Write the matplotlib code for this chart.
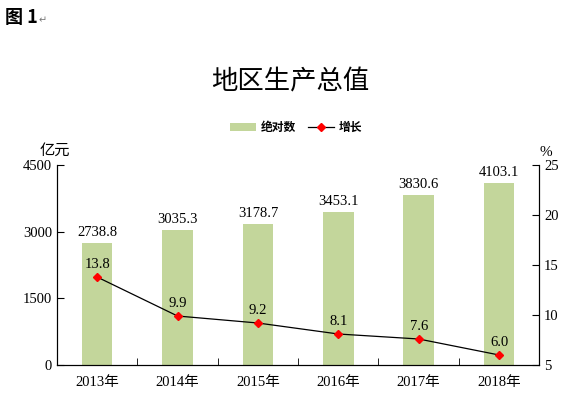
import numpy as np
import matplotlib.pyplot as plt

plt.rcParams['font.family'] = ['Liberation Serif', 'Noto Sans CJK SC']

years = ['2013年', '2014年', '2015年', '2016年', '2017年', '2018年']
gdp = [2738.8, 3035.3, 3178.7, 3453.1, 3830.6, 4103.1]
growth = [13.8, 9.9, 9.2, 8.1, 7.6, 6.0]

fig = plt.figure(figsize=(5.7, 3.98), dpi=100)
ax = fig.add_axes([0.1, 0.083, 0.846, 0.502])
ax2 = ax.twinx()

x = np.arange(len(years))
bars = ax.bar(x, gdp, width=0.38, color='#c3d69b', label='绝对数', zorder=2)
for xi, v in zip(x, gdp):
    ax.text(xi, v + 90, f'{v:.1f}', ha='center', va='bottom', fontsize=10.5)

ax.set_xlim(-0.5, len(years) - 0.5)
ax.set_ylim(0, 4500)
ax.set_yticks([0, 1500, 3000, 4500])
ax.set_xticks(x)
ax.set_xticklabels(years, fontsize=10.5)
ax.set_xticks(np.arange(len(years) + 1) - 0.5, minor=True)
ax.tick_params(axis='x', which='major', length=0, pad=8)
ax.tick_params(axis='x', which='minor', direction='in', length=5)
ax.tick_params(axis='y', direction='in', length=5, labelsize=10.5)

line, = ax2.plot(x, growth, color='black', lw=0.9, marker='D', markersize=4.5,
                 markerfacecolor='red', markeredgecolor='red', label='增长', zorder=3)
for xi, v in zip(x, growth):
    ax2.text(xi, v + 0.6, f'{v:.1f}', ha='center', va='bottom', fontsize=10.5)
ax2.set_ylim(5, 25)
ax2.set_yticks([5, 10, 15, 20, 25])
ax2.tick_params(axis='y', direction='in', length=5, labelsize=10.5)

for a in (ax, ax2):
    a.spines['top'].set_visible(False)
    for s in a.spines.values():
        s.set_linewidth(0.8)

ax.text(-0.005, 1.03, '亿元', transform=ax.transAxes, ha='center', va='bottom',
        fontsize=11, family=['Noto Sans CJK SC'])
ax2.text(1.0, 1.03, '%', transform=ax.transAxes, ha='left', va='bottom', fontsize=11)

fig.text(0.51, 0.795, '地区生产总值', ha='center', va='center', fontsize=19,
         family=['Noto Sans CJK SC'])
fig.text(0.008, 0.955, '图 1', ha='left', va='center', fontsize=13, fontweight='bold',
         family=['Noto Sans CJK SC'])
fig.text(0.068, 0.948, '↵', ha='left', va='center', fontsize=7, color='#777777',
         family=['DejaVu Sans'])

fig.legend(handles=[bars, line], labels=['绝对数', '增长'], loc='center',
           bbox_to_anchor=(0.52, 0.68), ncol=2, frameon=False,
           prop={'family': 'Noto Sans CJK SC', 'weight': 'bold', 'size': 8.5},
           handlelength=2.2, columnspacing=1.0, handletextpad=0.4)

fig.savefig('out.png', dpi=100)
